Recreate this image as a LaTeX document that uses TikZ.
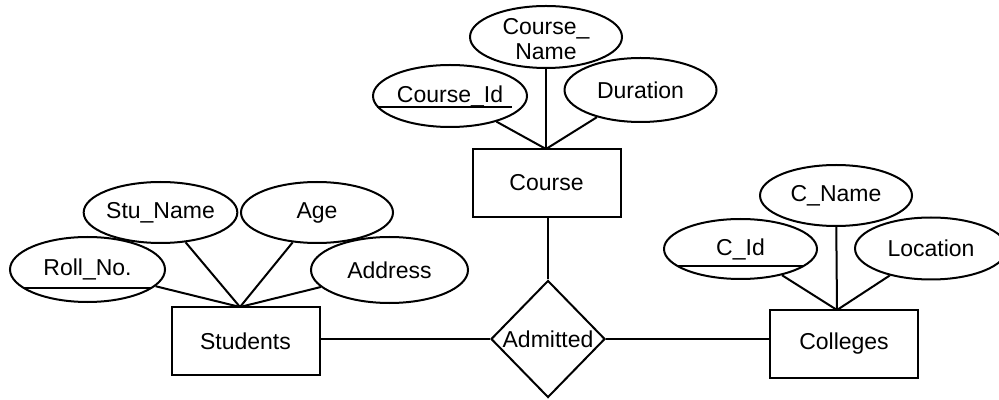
\documentclass[tikz,border=0pt]{standalone}
\usepackage{fontspec}
\setmainfont{Liberation Sans}
\usetikzlibrary{shapes.geometric,calc}

\begin{document}
\begin{tikzpicture}[x=0.5pt,y=-0.5pt,
  line width=1pt,
  every node/.style={font=\fontsize{11.5pt}{13pt}\selectfont},
  entity/.style={draw,rectangle,inner sep=0pt,minimum width=74pt,minimum height=34pt},
  attr/.style={draw,ellipse,inner sep=0pt,minimum width=76pt,minimum height=31pt,fill=white},
  relation/.style={draw,diamond,aspect=1,inner sep=0pt,minimum width=57pt,minimum height=58.5pt}
]
\useasboundingbox (0,0) rectangle (999,400);

% entities and relationship
\node[entity] (course) at (546.5,183) {Course};
\node[entity] (stu) at (245.5,341) {Students};
\node[entity] (col) at (844,344) {Colleges};
\node[relation] (adm) at (548,339) {Admitted};

% meeting points of the attribute links
\coordinate (cTop) at (546,149);
\coordinate (sTop) at (240,307);
\coordinate (gTop) at (837,310);

% attributes of Course
\node[attr] (cname) at (546,37) {};
\node[align=center,font=\fontsize{11.5pt}{12.5pt}\selectfont] (cnametext) at (546,39) {Course\_\\Name};
\node[attr,minimum width=77pt] (cid) at (450,96) {Course\_Id};
\node[attr,minimum height=32pt] (dur) at (640.5,90) {Duration};

% attributes of Students
\node[attr,minimum width=74.5pt,minimum height=30.5pt] (sname) at (160.5,212.5) {Stu\_Name};
\node[attr,minimum height=30.5pt] (age) at (317,212.5) {Age};
\node[attr,minimum width=77.5pt,minimum height=32.5pt] (roll) at (87.5,269.5) {Roll\_No.};
\node[attr,minimum width=78.5pt,minimum height=33pt] (addr) at (389.5,270) {Address};

% attributes of Colleges
\node[attr,minimum height=30.5pt] (cn) at (836,195.5) {C\_Name};
\node[attr,minimum width=76.5pt,minimum height=30pt] (cidd) at (740.5,249) {C\_Id};
\node[attr] (loc) at (931,248.5) {Location};

% key underlines
\draw ($(cid.center)+(-73,11)$) -- ($(cid.center)+(62,11)$);
\draw ($(roll.center)+(-65,18.5)$) -- ($(roll.center)+(64.5,18.5)$);
\draw ($(cidd.center)+(-63,17)$) -- ($(cidd.center)+(62.5,17)$);

% attribute links
\draw (cname) -- (cTop);
\draw (cid) -- (cTop);
\draw (dur) -- (cTop);
\draw (sname) -- (sTop);
\draw (age) -- (sTop);
\draw (roll) -- (sTop);
\draw (addr) -- (sTop);
\draw (cn) -- (gTop);
\draw (cidd) -- (gTop);
\draw (loc) -- (gTop);

% relationship links
\draw (adm.west) -- (adm.west -| stu.east);
\draw (adm.east) -- (adm.east -| col.west);
\draw (adm.north) -- (adm.north |- course.south);
\end{tikzpicture}
\end{document}
